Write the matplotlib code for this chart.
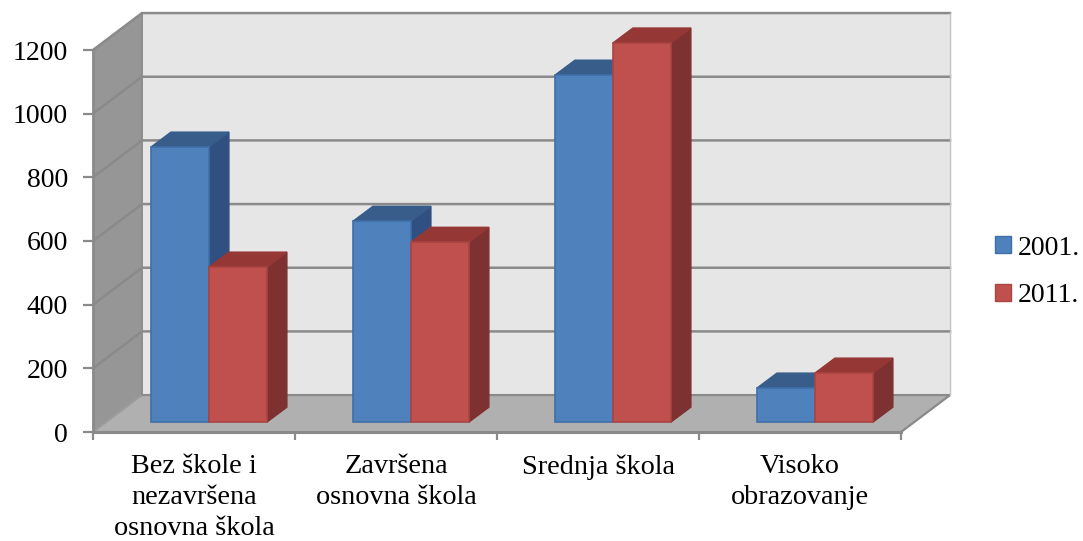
import matplotlib
matplotlib.use('Agg')
import matplotlib.pyplot as plt
from matplotlib.patches import Polygon, Patch

# values
categories = ['Bez škole i\nnezavršena\nosnovna škola', 'Završena\nosnovna škola', 'Srednja škola', 'Visoko\nobrazovanje']
years = ['2001.', '2011.']
values_2001 = [864, 631, 1090, 107]
values_2011 = [487, 565, 1191, 154]
y_ticks = [0, 200, 400, 600, 800, 1000, 1200]

# 3d look: how far the back wall and the bars are shifted, in data units
wall_dx, wall_dy = 0.2426, 116
floor_dx, floor_dy = 0.0718, 31
bar_dx, bar_dy = 0.099, 47
bar_gap, bar_w = 0.215, 0.287

W, H = 1083, 541
line_col = '#8a8a8a'

plt.rcParams['font.family'] = ['Liberation Serif', 'DejaVu Serif']

fig = plt.figure(figsize=(W / 100, H / 100), dpi=100)
ax = fig.add_axes([93 / W, (H - 432) / H, 808 / W, 382 / H])
ax.set_xlim(0, 4)
ax.set_ylim(0, 1200)
ax.patch.set_visible(False)


def poly(points, color, edge=None, z=1, lw=1.0):
    ax.add_patch(Polygon(points, closed=True, facecolor=color, edgecolor=edge if edge else color,
                         linewidth=lw, zorder=z, clip_on=False))


# walls and floor
poly([(wall_dx, wall_dy), (4 + wall_dx, wall_dy), (4 + wall_dx, 1200 + wall_dy), (wall_dx, 1200 + wall_dy)], '#e6e6e6', z=1)
poly([(0, 0), (wall_dx, wall_dy), (wall_dx, 1200 + wall_dy), (0, 1200)], '#969696', z=1)
poly([(0, 0), (4, 0), (4 + wall_dx, wall_dy), (wall_dx, wall_dy)], '#b0b0b0', z=1)

# grid lines go along the left wall and then along the back wall
for t in y_ticks:
    if t == 0:
        ax.plot([4, 4 + wall_dx, wall_dx], [0, wall_dy, wall_dy], color=line_col, lw=1.6, zorder=2, clip_on=False)
        ax.plot([0, wall_dx], [0, wall_dy], color='#9c9c9c', lw=1.4, zorder=2, clip_on=False)
    else:
        ax.plot([0, wall_dx, 4 + wall_dx], [t, t + wall_dy, t + wall_dy], color=line_col, lw=1.8, zorder=2, clip_on=False, solid_joinstyle='miter')
ax.plot([wall_dx, wall_dx], [wall_dy, 1200 + wall_dy], color=line_col, lw=1.2, zorder=2, clip_on=False)
ax.plot([4 + wall_dx, 4 + wall_dx], [wall_dy, 1200 + wall_dy], color='#c4c4c4', lw=1.0, zorder=2, clip_on=False)


# one 3d bar: side and top are polygons, the front is a normal bar
def draw_bar(x, value, front, top, side, edge, z):
    y0 = floor_dy
    y1 = floor_dy + value
    poly([(x + bar_w, y0), (x + bar_w + bar_dx, y0 + bar_dy), (x + bar_w + bar_dx, y1 + bar_dy), (x + bar_w, y1)], side, z=z)
    poly([(x, y1), (x + bar_w, y1), (x + bar_w + bar_dx, y1 + bar_dy), (x + bar_dx, y1 + bar_dy)], top, z=z)
    ax.bar(x, value, width=bar_w, bottom=y0, align='edge', color=front, edgecolor=edge, linewidth=1.2, zorder=z + 0.1, clip_on=False)


for i in range(len(categories)):
    x = i + floor_dx + bar_gap
    draw_bar(x, values_2001[i], '#4f81bd', '#385d8a', '#2f5080', '#3f6fa8', 3 + i)
    draw_bar(x + bar_w, values_2011[i], '#c0504d', '#953735', '#7d3130', '#a94542', 3.5 + i)

# axes
for name in ['top', 'right']:
    ax.spines[name].set_visible(False)
ax.spines['left'].set_color(line_col)
ax.spines['bottom'].set_color(line_col)
ax.spines['left'].set_linewidth(1.8)
ax.spines['bottom'].set_linewidth(2.2)
ax.spines['left'].set_zorder(2.5)
ax.spines['bottom'].set_zorder(2.5)

ax.set_yticks(y_ticks)
ax.tick_params(axis='y', length=7, width=1.6, color=line_col, labelsize=20, pad=11)
ax.set_xticks([0, 1, 2, 3, 4])
ax.set_xticklabels([])
ax.tick_params(axis='x', which='major', length=6, width=1.6, color=line_col)
ax.set_xticks([0.5, 1.5, 2.5, 3.5], minor=True)
ax.set_xticklabels(categories, minor=True, fontsize=20.3, linespacing=1.3)
ax.tick_params(axis='x', which='minor', length=0, pad=16)

handles = [Patch(facecolor='#4f81bd', edgecolor='#3f6fa8', label=years[0]),
           Patch(facecolor='#c0504d', edgecolor='#a94542', label=years[1])]
fig.legend(handles=handles, loc='center left', bbox_to_anchor=(995 / W, (H - 272) / H), frameon=False,
           fontsize=20, handlelength=0.56, handleheight=0.56, handletextpad=0.25, labelspacing=0.82,
           borderpad=0, borderaxespad=0)

fig.savefig('out.png', dpi=100)
